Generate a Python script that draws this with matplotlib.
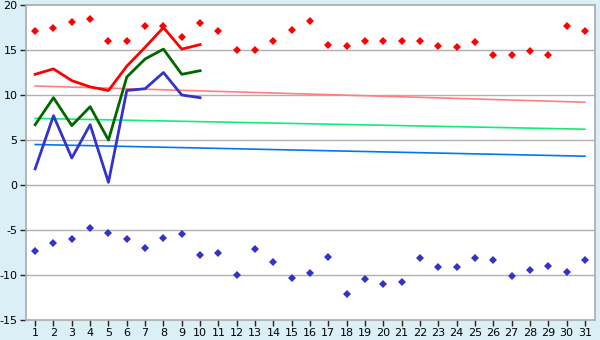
#!/usr/bin/env python3
# -*- coding: utf-8 -*-
"""
Daily temperatures chart: max/min markers, 10-day lines and trend lines
"""

import matplotlib
matplotlib.use('Agg')
import matplotlib.pyplot as plt
import numpy as np

plt.rcParams['font.family'] = ['DejaVu Sans']
plt.rcParams['font.size'] = 8
plt.rcParams['axes.unicode_minus'] = False

# days of the month
days = list(range(1, 32))

# daily max (red diamonds)
max_temp = [17.1, 17.5, 18.1, 18.4, 16.0, 16.0, 17.7, 17.7, 16.4, 18.0,
            17.1, 15.0, 15.0, 16.0, 17.2, 18.2, 15.6, 15.4, 16.0, 16.0,
            16.0, 16.0, 15.5, 15.3, 15.9, 14.5, 14.5, 14.9, 14.5, 17.7,
            17.1]

# daily min (blue diamonds)
min_temp = [-7.3, -6.4, -6.0, -4.8, -5.3, -6.0, -7.0, -5.9, -5.4, -7.8,
            -7.5, -10.0, -7.1, -8.5, -10.3, -9.8, -8.0, -12.1, -10.4, -11.0,
            -10.8, -8.1, -9.1, -9.1, -8.1, -8.3, -10.1, -9.4, -9.0, -9.7,
            -8.3]

# first ten days
line_days = list(range(1, 11))
line_max = [12.3, 12.9, 11.6, 10.9, 10.5, 13.2, 15.3, 17.5, 15.1, 15.6]
line_mean = [6.7, 9.7, 6.6, 8.7, 5.0, 12.0, 14.0, 15.1, 12.3, 12.7]
line_min = [1.8, 7.7, 3.0, 6.7, 0.3, 10.5, 10.7, 12.5, 10.0, 9.7]

# trend lines (start/end)
trend_days = [1, 31]
trend_max = [11.0, 9.2]
trend_mean = [7.4, 6.2]
trend_min = [4.5, 3.2]

BG = '#daeff6'

fig = plt.figure(figsize=(6.0, 3.4), dpi=100, facecolor=BG)
ax = fig.add_axes([26 / 600, 20 / 340, 569 / 600, 315 / 340])
ax.set_facecolor('white')

# grid
for y in range(-10, 20, 5):
    ax.axhline(y, color='#b0b0b0', linewidth=1.0, zorder=1)

# trend lines
ax.plot(trend_days, trend_max, color='#ff8080', linewidth=1.2, zorder=2)
ax.plot(trend_days, trend_mean, color='#11ee77', linewidth=1.2, zorder=2)
ax.plot(trend_days, trend_min, color='#0077ee', linewidth=1.2, zorder=2)

# ten-day lines
ax.plot(line_days, line_max, color='#ff0000', linewidth=2, zorder=3)
ax.plot(line_days, line_mean, color='#006600', linewidth=2, zorder=3)
ax.plot(line_days, line_min, color='#3333cc', linewidth=2, zorder=3)

# markers
ax.plot(days, max_temp, linestyle='none', marker='D', markersize=4.2,
        color='#ff0000', markeredgewidth=0, zorder=4)
ax.plot(days, min_temp, linestyle='none', marker='D', markersize=4.2,
        color='#3333cc', markeredgewidth=0, zorder=4)

ax.set_xlim(0.5, 31.55)
ax.set_ylim(-15, 20)
ax.set_xticks(days)
ax.set_yticks(range(-15, 21, 5))
ax.tick_params(axis='both', direction='out', length=4, width=1,
               color='#222222', labelsize=8, pad=2)

for side in ['left', 'right', 'top', 'bottom']:
    ax.spines[side].set_color('#aaaaaa')
    ax.spines[side].set_linewidth(1.2)

plt.savefig('out.png', dpi=100, facecolor=BG)
